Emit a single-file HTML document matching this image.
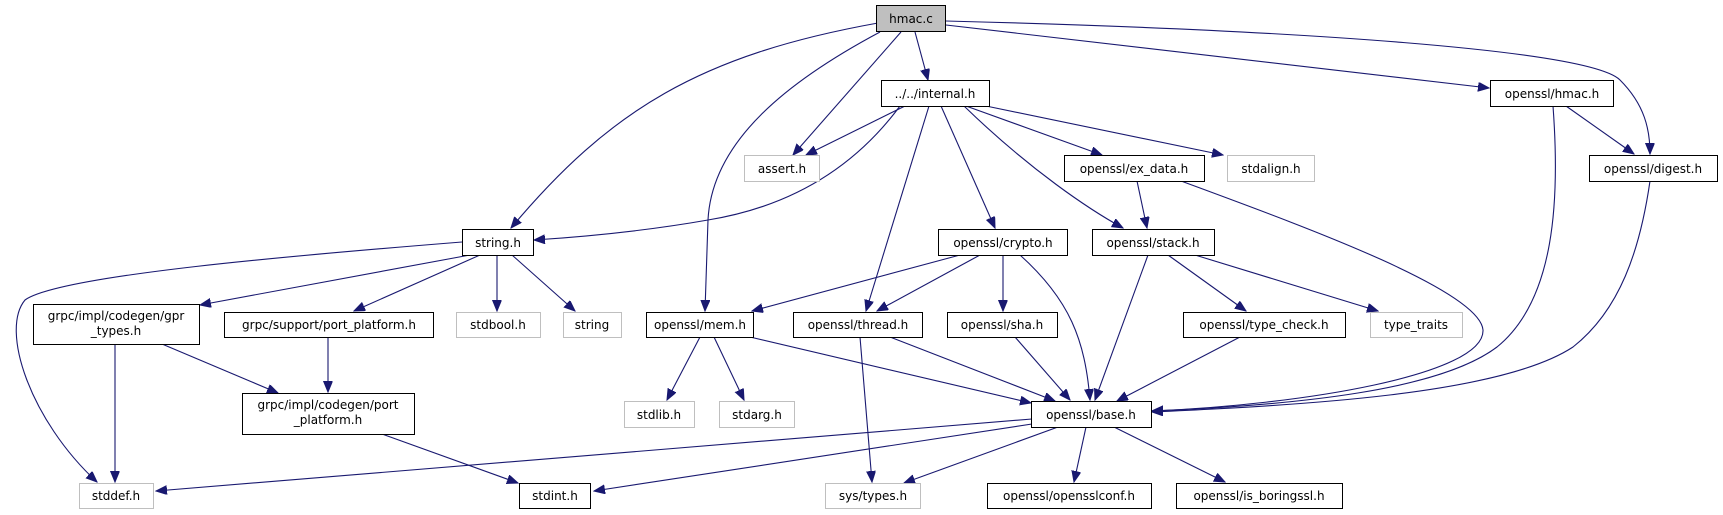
<!DOCTYPE html>
<html><head><meta charset="utf-8"><style>
html,body{margin:0;padding:0;background:#fff;}
svg{display:block;}
text{font-family:"DejaVu Sans","Liberation Sans",sans-serif;font-size:12px;fill:#000;}
.e{fill:none;stroke:#191970;stroke-width:1.1;}
.n{fill:#fff;stroke:#000;stroke-width:1;}
.g{fill:#fff;stroke:#bfbfbf;stroke-width:1;}
</style></head><body>
<svg width="1723" height="515" viewBox="0 0 1723 515" xmlns="http://www.w3.org/2000/svg">
<defs>
<marker id="a" markerUnits="userSpaceOnUse" markerWidth="12" markerHeight="10" refX="11" refY="4.5" orient="auto">
<path d="M0,0 L11,4.5 L0,9 z" fill="#191970" stroke="#191970"/>
</marker>
</defs>
<g marker-end="url(#a)">
<path class="e" d="M878,23 C700,55 610,110 511,228"/>
<path class="e" d="M901,32 L793,155"/>
<path class="e" d="M880,32 C790,80 712,140 708,220 L705,311"/>
<path class="e" d="M915,32 L928,80"/>
<path class="e" d="M946,25 L1489,88"/>
<path class="e" d="M946,21 C1300,30 1590,50 1620,80 C1645,105 1650,130 1650,154"/>
<path class="e" d="M905,106 L806,155"/>
<path class="e" d="M900,106 C860,160 800,205 708,220 C640,232 580,237 534,240"/>
<path class="e" d="M929,106 L866,311"/>
<path class="e" d="M941,106 L995,228"/>
<path class="e" d="M964,106 C1030,170 1090,210 1123,228"/>
<path class="e" d="M966,106 L1102,155"/>
<path class="e" d="M986,106 L1223,155"/>
<path class="e" d="M1137,181 L1147,228"/>
<path class="e" d="M1181,181 C1300,225 1480,290 1483,330 C1485,375 1300,405 1152,411"/>
<path class="e" d="M1553,106 C1560,200 1555,300 1497,347 C1440,390 1300,405 1152,411"/>
<path class="e" d="M1566,106 L1634,154"/>
<path class="e" d="M1650,181 C1640,250 1620,310 1573,347 C1500,395 1300,405 1152,412"/>
<path class="e" d="M462,242 C300,255 60,275 25,300 C0,330 30,420 97,482"/>
<path class="e" d="M470,255 L200,305"/>
<path class="e" d="M480,255 L354,311"/>
<path class="e" d="M497,255 L497,311"/>
<path class="e" d="M512,255 L575,311"/>
<path class="e" d="M960,255 L752,311"/>
<path class="e" d="M980,255 L877,311"/>
<path class="e" d="M1003,255 L1003,311"/>
<path class="e" d="M1020,255 C1070,300 1085,340 1090,400"/>
<path class="e" d="M1148,255 L1095,400"/>
<path class="e" d="M1168,255 L1246,311"/>
<path class="e" d="M1195,255 L1378,311"/>
<path class="e" d="M700,337 L667,400"/>
<path class="e" d="M714,337 L744,400"/>
<path class="e" d="M750,337 L1031,403"/>
<path class="e" d="M890,337 L1055,401"/>
<path class="e" d="M860,337 L872,482"/>
<path class="e" d="M1015,337 L1070,400"/>
<path class="e" d="M1240,337 L1117,401"/>
<path class="e" d="M115,344 L115,482"/>
<path class="e" d="M162,344 L278,393"/>
<path class="e" d="M328,337 L328,392"/>
<path class="e" d="M382,434 L518,483"/>
<path class="e" d="M1032,419 L156,491"/>
<path class="e" d="M1032,424 L594,491"/>
<path class="e" d="M1058,427 L904,483"/>
<path class="e" d="M1086,427 L1074,482"/>
<path class="e" d="M1114,427 L1225,482"/>
</g>
<rect x="876.5" y="5.5" width="69" height="26" fill="#bfbfbf" stroke="#000"/><text x="911" y="23" text-anchor="middle">hmac.c</text>
<rect class="n" x="881.5" y="80.5" width="108" height="26"/><text x="935" y="98" text-anchor="middle">../../internal.h</text>
<rect class="n" x="1490.5" y="80.5" width="123" height="26"/><text x="1552" y="98" text-anchor="middle">openssl/hmac.h</text>
<rect class="g" x="744.5" y="155.5" width="75" height="26"/><text x="782" y="173" text-anchor="middle">assert.h</text>
<rect class="n" x="1064.5" y="155.5" width="140" height="26"/><text x="1134" y="173" text-anchor="middle">openssl/ex_data.h</text>
<rect class="g" x="1227.5" y="155.5" width="87" height="26"/><text x="1271" y="173" text-anchor="middle">stdalign.h</text>
<rect class="n" x="1589.5" y="155.5" width="128" height="26"/><text x="1653" y="173" text-anchor="middle">openssl/digest.h</text>
<rect class="n" x="462.5" y="229.5" width="71" height="26"/><text x="498" y="247" text-anchor="middle">string.h</text>
<rect class="n" x="938.5" y="229.5" width="129" height="26"/><text x="1003" y="247" text-anchor="middle">openssl/crypto.h</text>
<rect class="n" x="1092.5" y="229.5" width="122" height="26"/><text x="1153" y="247" text-anchor="middle">openssl/stack.h</text>
<rect class="n" x="33.5" y="304.5" width="166" height="40"/><text x="116" y="320" text-anchor="middle">grpc/impl/codegen/gpr</text><text x="116" y="335" text-anchor="middle">_types.h</text>
<rect class="n" x="224.5" y="312.5" width="209" height="25"/><text x="329" y="329" text-anchor="middle">grpc/support/port_platform.h</text>
<rect class="g" x="456.5" y="312.5" width="84" height="25"/><text x="498" y="329" text-anchor="middle">stdbool.h</text>
<rect class="g" x="563.5" y="312.5" width="58" height="25"/><text x="592" y="329" text-anchor="middle">string</text>
<rect class="n" x="646.5" y="312.5" width="107" height="25"/><text x="700" y="329" text-anchor="middle">openssl/mem.h</text>
<rect class="n" x="793.5" y="312.5" width="129" height="25"/><text x="858" y="329" text-anchor="middle">openssl/thread.h</text>
<rect class="n" x="947.5" y="312.5" width="110" height="25"/><text x="1002" y="329" text-anchor="middle">openssl/sha.h</text>
<rect class="n" x="1183.5" y="312.5" width="162" height="25"/><text x="1264" y="329" text-anchor="middle">openssl/type_check.h</text>
<rect class="g" x="1370.5" y="312.5" width="92" height="25"/><text x="1416" y="329" text-anchor="middle">type_traits</text>
<rect class="n" x="242.5" y="393.5" width="172" height="41"/><text x="328" y="409" text-anchor="middle">grpc/impl/codegen/port</text><text x="328" y="424" text-anchor="middle">_platform.h</text>
<rect class="g" x="624.5" y="401.5" width="70" height="26"/><text x="659" y="419" text-anchor="middle">stdlib.h</text>
<rect class="g" x="719.5" y="401.5" width="75" height="26"/><text x="757" y="419" text-anchor="middle">stdarg.h</text>
<rect class="n" x="1031.5" y="401.5" width="120" height="26"/><text x="1091" y="419" text-anchor="middle">openssl/base.h</text>
<rect class="g" x="79.5" y="483.5" width="74" height="25"/><text x="116" y="500" text-anchor="middle">stddef.h</text>
<rect class="n" x="519.5" y="483.5" width="71" height="25"/><text x="555" y="500" text-anchor="middle">stdint.h</text>
<rect class="g" x="825.5" y="483.5" width="95" height="25"/><text x="873" y="500" text-anchor="middle">sys/types.h</text>
<rect class="n" x="987.5" y="483.5" width="164" height="25"/><text x="1069" y="500" text-anchor="middle">openssl/opensslconf.h</text>
<rect class="n" x="1176.5" y="483.5" width="166" height="25"/><text x="1259" y="500" text-anchor="middle">openssl/is_boringssl.h</text>
</svg>
</body></html>
